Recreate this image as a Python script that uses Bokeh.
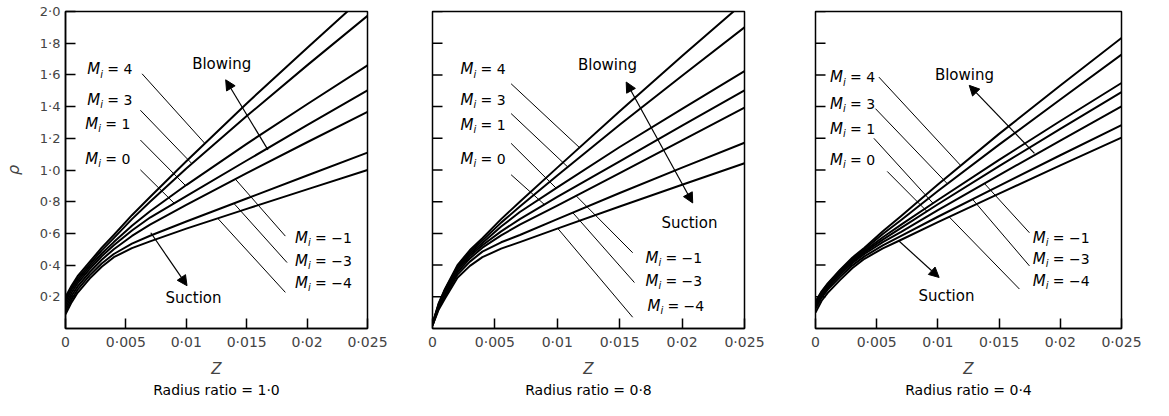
import numpy as np
from bokeh.plotting import figure
from bokeh.models import Range1d, FixedTicker, Arrow, NormalHead, LinearAxis, ColumnDataSource
from bokeh.layouts import row
from bokeh.core.properties import value
from bokeh.embed import file_html
from bokeh.resources import INLINE

FONT = "DejaVu Sans"

# ---------------- data ----------------
Z = [0, 0.0005, 0.001, 0.002, 0.003, 0.004, 0.0055, 0.007, 0.010, 0.015, 0.020, 0.025]
M_TEXT = ["= 4", "= 3", "= 1", "= 0", "= \u22121", "= \u22123", "= \u22124"]

X_TICKS = [0, 0.005, 0.01, 0.015, 0.02, 0.025]
X_TICK_LABELS = ["0", "0\u00b7005", "0\u00b701", "0\u00b7015", "0\u00b702", "0\u00b7025"]
Y_TICKS = [0.2, 0.4, 0.6, 0.8, 1.0, 1.2, 1.4, 1.6, 1.8, 2.0]
Y_TICK_LABELS = ["0\u00b72", "0\u00b74", "0\u00b76", "0\u00b78", "1\u00b70",
                 "1\u00b72", "1\u00b74", "1\u00b76", "1\u00b78", "2\u00b70"]

CAPTIONS = ["Radius ratio = 1\u00b70", "Radius ratio = 0\u00b78", "Radius ratio = 0\u00b74"]

# Radius ratio 1.0  (rho for M_i = 4, 3, 1, 0, -1, -3, -4)
R10_M4 = [0.20, 0.27, 0.33, 0.42, 0.51, 0.59, 0.715, 0.83, 1.055, 1.42, 1.77, 2.115]
R10_M3 = [0.19, 0.26, 0.315, 0.405, 0.493, 0.57, 0.69, 0.80, 1.01, 1.34, 1.66, 1.973]
R10_M1 = [0.17, 0.245, 0.30, 0.39, 0.473, 0.545, 0.648, 0.74, 0.905, 1.165, 1.415, 1.66]
R10_M0 = [0.15, 0.225, 0.285, 0.375, 0.456, 0.525, 0.618, 0.70, 0.835, 1.06, 1.283, 1.503]
R10_Mm1 = [0.13, 0.205, 0.265, 0.355, 0.434, 0.50, 0.584, 0.655, 0.78, 0.98, 1.175, 1.367]
R10_Mm3 = [0.11, 0.185, 0.245, 0.335, 0.41, 0.47, 0.535, 0.585, 0.675, 0.82, 0.965, 1.11]
R10_Mm4 = [0.09, 0.165, 0.225, 0.315, 0.39, 0.45, 0.507, 0.55, 0.63, 0.755, 0.878, 1.00]

# Radius ratio 0.8
R08_M4 = [0.03, 0.16, 0.25, 0.40, 0.495, 0.57, 0.69, 0.80, 1.015, 1.37, 1.72, 2.06]
R08_M3 = [0.03, 0.155, 0.245, 0.39, 0.482, 0.555, 0.668, 0.77, 0.965, 1.285, 1.595, 1.90]
R08_M1 = [0.025, 0.15, 0.238, 0.38, 0.47, 0.54, 0.643, 0.735, 0.89, 1.145, 1.385, 1.624]
R08_M0 = [0.025, 0.145, 0.23, 0.37, 0.457, 0.525, 0.613, 0.69, 0.83, 1.055, 1.28, 1.503]
R08_Mm1 = [0.02, 0.14, 0.22, 0.355, 0.442, 0.51, 0.588, 0.655, 0.775, 0.98, 1.187, 1.394]
R08_Mm3 = [0.02, 0.13, 0.205, 0.34, 0.422, 0.485, 0.544, 0.59, 0.69, 0.855, 1.015, 1.172]
R08_Mm4 = [0.02, 0.12, 0.19, 0.32, 0.395, 0.45, 0.504, 0.545, 0.63, 0.77, 0.907, 1.043]

# Radius ratio 0.4
R04_M4 = [0.17, 0.235, 0.285, 0.37, 0.447, 0.51, 0.613, 0.71, 0.908, 1.228, 1.533, 1.833]
R04_M3 = [0.165, 0.23, 0.28, 0.365, 0.439, 0.50, 0.596, 0.685, 0.867, 1.16, 1.445, 1.728]
R04_M1 = [0.155, 0.222, 0.272, 0.358, 0.431, 0.49, 0.576, 0.655, 0.811, 1.064, 1.309, 1.549]
R04_M0 = [0.15, 0.215, 0.265, 0.35, 0.422, 0.48, 0.561, 0.635, 0.784, 1.024, 1.259, 1.492]
R04_Mm1 = [0.14, 0.207, 0.257, 0.34, 0.412, 0.47, 0.545, 0.61, 0.747, 0.968, 1.186, 1.402]
R04_Mm3 = [0.125, 0.195, 0.245, 0.325, 0.397, 0.455, 0.525, 0.585, 0.705, 0.90, 1.093, 1.283]
R04_Mm4 = [0.10, 0.175, 0.225, 0.305, 0.38, 0.44, 0.505, 0.56, 0.671, 0.851, 1.029, 1.204]

# ---------------- annotation positions (data units) ----------------
LAB10_X = [0.0018, 0.0018, 0.00164, 0.00164, 0.019, 0.019, 0.019]
LAB10_Y = [1.636, 1.442, 1.292, 1.072, 0.571, 0.426, 0.288]
LAB08_X = [0.00224, 0.00224, 0.00224, 0.00224, 0.01706, 0.01706, 0.01722]
LAB08_Y = [1.636, 1.442, 1.285, 1.072, 0.446, 0.301, 0.144]
LAB04_X = [0.00119, 0.00119, 0.00119, 0.00119, 0.01775, 0.01775, 0.01775]
LAB04_Y = [1.586, 1.417, 1.26, 1.066, 0.571, 0.439, 0.301]

LEAD10_X0 = [0.00634, 0.0062, 0.0062, 0.0062, 0.0182, 0.01834, 0.0182]
LEAD10_Y0 = [1.607, 1.377, 1.189, 1.001, 0.583, 0.416, 0.228]
LEAD10_X1 = [0.01154, 0.01046, 0.00994, 0.009, 0.01406, 0.01394, 0.0126]
LEAD08_X0 = [0.0063, 0.0063, 0.0063, 0.0063, 0.01604, 0.01618, 0.01604]
LEAD08_Y0 = [1.544, 1.356, 1.168, 0.970, 0.478, 0.29, 0.071]
LEAD08_X1 = [0.01178, 0.01084, 0.00991, 0.00897, 0.01151, 0.01124, 0.01004]
LEAD04_X0 = [0.00518, 0.0049, 0.00477, 0.00586, 0.01748, 0.01748, 0.01666]
LEAD04_Y0 = [1.586, 1.387, 1.20, 0.991, 0.604, 0.395, 0.249]
LEAD04_X1 = [0.01187, 0.01078, 0.0096, 0.0091, 0.0138, 0.01283, 0.01092]

TXT10 = [(0.01293, 1.668), (0.0106, 0.194)]
TXT08 = [(0.01402, 1.661), (0.02059, 0.665)]
TXT04 = [(0.01217, 1.599), (0.0107, 0.207)]

ARR10 = [(0.01676, 1.127, 0.01326, 1.569, False), (0.00706, 0.604, 0.01006, 0.27, False)]
ARR08 = [(0.01552, 1.555, 0.02085, 0.792, True)]
ARR04 = [(0.01789, 1.105, 0.01256, 1.534, False), (0.00682, 0.552, 0.0101, 0.322, False)]

TICK_PX = 10  # inward tick length in pixels


def make_panel(curves, lab_x, lab_y, l_x0, l_y0, l_x1, texts, arrows, caption,
               width, left, right, show_y):
    frame_w = width - left - right
    p = figure(width=width, height=400, x_range=Range1d(0, 0.025), y_range=Range1d(0, 2.0),
               output_backend="svg", toolbar_location=None,
               min_border_left=left, min_border_right=right,
               min_border_top=11, min_border_bottom=60)
    p.grid.visible = False
    p.background_fill_color = "white"
    p.border_fill_color = "white"
    p.outline_line_color = "black"
    p.outline_line_width = 1.5

    for rho in curves:
        p.line(Z, rho, line_color="black", line_width=2, line_join="round")

    l_y1 = [float(np.interp(xe, Z, c)) for xe, c in zip(l_x1, curves)]
    p.segment(x0=l_x0, y0=l_y0, x1=l_x1, y1=l_y1, line_color="black", line_width=1)

    src = ColumnDataSource(dict(x=lab_x, y=lab_y, t=M_TEXT))
    p.text(x="x", y="y", text=value("M"), source=src, text_font=value(FONT),
           text_font_style="italic", text_font_size="15px", text_baseline="middle",
           text_align="left", text_color="black")
    p.text(x="x", y="y", text=value("i"), source=src, text_font=value(FONT),
           text_font_style="italic", text_font_size="10px", text_baseline="middle",
           text_align="left", x_offset=13, y_offset=5, text_color="black")
    p.text(x="x", y="y", text="t", source=src, text_font=value(FONT),
           text_font_size="14px", text_baseline="middle", text_align="left",
           x_offset=20, text_color="black")

    p.text(x=[texts[0][0], texts[1][0]], y=[texts[0][1], texts[1][1]],
           text=["Blowing", "Suction"], text_font=value(FONT), text_font_size="15px",
           text_baseline="middle", text_align="center", text_color="black")

    for xs, ys, xe, ye, dbl in arrows:
        head = NormalHead(size=10, fill_color="black", line_color="black")
        start = NormalHead(size=10, fill_color="black", line_color="black") if dbl else None
        p.add_layout(Arrow(end=head, start=start, x_start=xs, y_start=ys, x_end=xe, y_end=ye,
                           line_color="black", line_width=1.2))

    p.xaxis.ticker = FixedTicker(ticks=X_TICKS)
    p.xaxis.major_label_overrides = {t: s for t, s in zip(X_TICKS, X_TICK_LABELS)}
    p.yaxis.ticker = FixedTicker(ticks=Y_TICKS)
    for ax in (p.xaxis, p.yaxis):
        ax.major_tick_in = TICK_PX
        ax.major_tick_out = 0
        ax.minor_tick_line_color = None
        ax.major_tick_line_width = 1.5
        ax.axis_line_width = 1.5
        ax.major_label_text_font = FONT
        ax.axis_label_text_font = FONT
        ax.axis_label_text_font_style = "italic"
        ax.axis_label_text_font_size = "15px"
    p.xaxis.major_label_text_font_size = "14px"
    p.xaxis.major_label_standoff = 5
    p.xaxis.axis_label = "Z"
    p.xaxis.axis_label_standoff = 7
    if show_y:
        p.yaxis.major_label_overrides = {t: s for t, s in zip(Y_TICKS, Y_TICK_LABELS)}
        p.yaxis.major_label_text_font_size = "13px"
        p.yaxis.major_label_standoff = 5
        p.yaxis.axis_label = "\u03c1"
        p.yaxis.axis_label_text_font_size = "16px"
        p.yaxis.axis_label_standoff = 14
    else:
        p.yaxis.visible = False
        tick_len = TICK_PX / frame_w * 0.025
        p.segment(x0=[0] * len(Y_TICKS), x1=[tick_len] * len(Y_TICKS), y0=Y_TICKS, y1=Y_TICKS,
                  line_color="black", line_width=1.5)

    # caption: an outer, tick-less axis that carries only its label
    cap = LinearAxis(ticker=FixedTicker(ticks=[]), axis_label=caption,
                     axis_line_color=None, major_tick_line_color=None,
                     minor_tick_line_color=None, major_tick_in=0, major_tick_out=0,
                     major_label_standoff=0, axis_label_standoff=1,
                     axis_label_text_font=FONT, axis_label_text_font_size="14px",
                     axis_label_text_font_style="normal", axis_label_text_color="black")
    p.add_layout(cap, "below")
    return p


p1 = make_panel([R10_M4, R10_M3, R10_M1, R10_M0, R10_Mm1, R10_Mm3, R10_Mm4],
                LAB10_X, LAB10_Y, LEAD10_X0, LEAD10_Y0, LEAD10_X1, TXT10, ARR10,
                CAPTIONS[0], 392, 55, 25, True)
p2 = make_panel([R08_M4, R08_M3, R08_M1, R08_M0, R08_Mm1, R08_Mm3, R08_Mm4],
                LAB08_X, LAB08_Y, LEAD08_X0, LEAD08_Y0, LEAD08_X1, TXT08, ARR08,
                CAPTIONS[1], 382, 40, 30, False)
p3 = make_panel([R04_M4, R04_M3, R04_M1, R04_M0, R04_Mm1, R04_Mm3, R04_Mm4],
                LAB04_X, LAB04_Y, LEAD04_X0, LEAD04_Y0, LEAD04_X1, TXT04, ARR04,
                CAPTIONS[2], 371, 41, 24, False)

layout = row(p1, p2, p3)
open("out.html", "w").write(file_html(layout, INLINE))
